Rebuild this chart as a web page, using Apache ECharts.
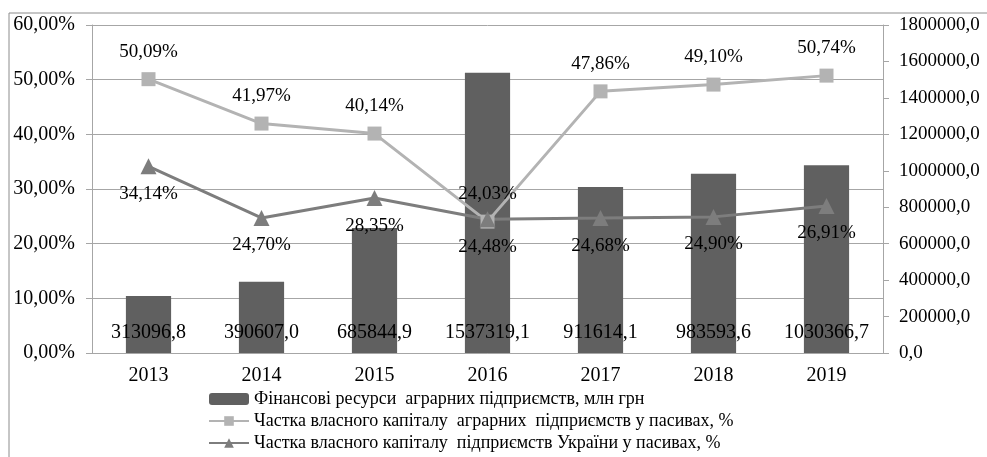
<!DOCTYPE html>
<html>
<head>
<meta charset="utf-8">
<script src="https://cdn.jsdelivr.net/npm/echarts@6/dist/echarts.min.js"></script>
<style>
  html, body { margin: 0; padding: 0; background: #fff; }
  #chart { width: 987px; height: 457px; }
</style>
</head>
<body>
<div id="chart"></div>
<script>
// Фінансові ресурси та частка власного капіталу, 2013–2019
const YEARS = ["2013", "2014", "2015", "2016", "2017", "2018", "2019"];
const RESOURCES = [313096.8, 390607.0, 685844.9, 1537319.1, 911614.1, 983593.6, 1030366.7];
const SHARE_AGRO = [50.09, 41.97, 40.14, 24.03, 47.86, 49.10, 50.74];
const SHARE_UKRAINE = [34.14, 24.70, 28.35, 24.48, 24.68, 24.90, 26.91];

const NAMES = [
  "Фінансові ресурси  аграрних підприємств, млн грн",
  "Частка власного капіталу  аграрних  підприємств у пасивах, %",
  "Частка власного капіталу  підприємств України у пасивах, %",
];

const FONT = "Liberation Serif";
const GRID_COLOR = "#a6a6a6";

const pct = (v) => v.toFixed(2).replace(".", ",") + "%";
const num = (v) => v.toFixed(1).replace(".", ",");

const chart = echarts.init(document.getElementById("chart"), null, { renderer: "canvas" });

chart.setOption({
  backgroundColor: "#fff",
  animation: false,
  textStyle: { fontFamily: FONT, color: "#000" },
  grid: { left: 92, right: 104, top: 25, bottom: 104 },
  legend: {
    orient: "vertical",
    left: 208,
    top: 390,
    itemWidth: 40,
    itemHeight: 12,
    itemGap: 4,
    padding: 0,
    textStyle: { fontFamily: FONT, fontSize: 18, color: "#000" },
    data: NAMES,
  },
  graphic: [
    { type: "line", shape: { x1: 9, y1: 13, x2: 987, y2: 13 }, style: { stroke: "#8c8c8c", lineWidth: 1 } },
    { type: "line", shape: { x1: 9, y1: 13, x2: 9, y2: 457 }, style: { stroke: "#8c8c8c", lineWidth: 1 } },
  ],
  xAxis: {
    type: "category",
    data: YEARS,
    axisLine: { lineStyle: { color: GRID_COLOR } },
    axisTick: { length: 5, lineStyle: { color: GRID_COLOR } },
    axisLabel: { fontFamily: FONT, fontSize: 20, color: "#000", margin: 13 },
  },
  yAxis: [
    {
      type: "value",
      min: 0,
      max: 60,
      interval: 10,
      axisLine: { show: true, lineStyle: { color: GRID_COLOR } },
      axisTick: { show: true, length: 6, lineStyle: { color: GRID_COLOR } },
      splitLine: { lineStyle: { color: GRID_COLOR } },
      axisLabel: { fontFamily: FONT, fontSize: 20, color: "#000", margin: 17, formatter: pct },
    },
    {
      type: "value",
      min: 0,
      max: 1800000,
      interval: 200000,
      axisLine: { show: true, lineStyle: { color: GRID_COLOR } },
      axisTick: { show: true, length: 6, lineStyle: { color: GRID_COLOR } },
      splitLine: { show: false },
      axisLabel: { fontFamily: FONT, fontSize: 19, color: "#000", margin: 16, formatter: num },
    },
  ],
  series: [
    {
      name: NAMES[0],
      type: "bar",
      yAxisIndex: 1,
      barWidth: "40%",
      itemStyle: { color: "#606060" },
      label: {
        show: true,
        position: "insideBottom",
        distance: 10,
        fontFamily: FONT,
        fontSize: 20,
        color: "#000",
        formatter: (p) => num(p.value),
      },
      data: RESOURCES,
    },
    {
      name: NAMES[1],
      type: "line",
      yAxisIndex: 0,
      symbol: "rect",
      symbolSize: 14,
      lineStyle: { color: "#b3b3b3", width: 3 },
      itemStyle: { color: "#b3b3b3" },
      label: {
        show: true,
        position: "top",
        distance: 11,
        fontFamily: FONT,
        fontSize: 19,
        color: "#000",
        formatter: (p) => pct(p.value),
      },
      data: SHARE_AGRO,
    },
    {
      name: NAMES[2],
      type: "line",
      yAxisIndex: 0,
      symbol: "triangle",
      symbolSize: 16,
      lineStyle: { color: "#7d7d7d", width: 3 },
      itemStyle: { color: "#7d7d7d" },
      label: {
        show: true,
        position: "bottom",
        distance: 10,
        fontFamily: FONT,
        fontSize: 19,
        color: "#000",
        formatter: (p) => pct(p.value),
      },
      data: SHARE_UKRAINE,
    },
  ],
});
</script>
</body>
</html>
